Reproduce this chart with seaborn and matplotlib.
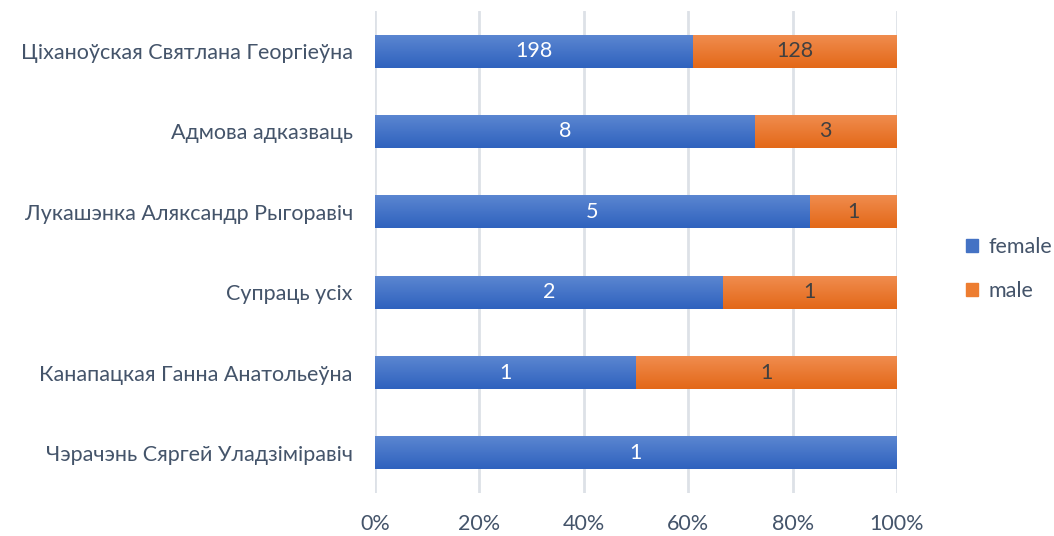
import numpy as np
import pandas as pd
import matplotlib
matplotlib.use("Agg")
import matplotlib.pyplot as plt
import matplotlib.patches as mpatches
from matplotlib.colors import LinearSegmentedColormap
import seaborn as sns

# Дадзеныя
кандыдаты = [
    "Ціханоўская Святлана Георгіеўна",
    "Адмова адказваць",
    "Лукашэнка Аляксандр Рыгоравіч",
    "Супраць усіх",
    "Канапацкая Ганна Анатольеўна",
    "Чэрачэнь Сяргей Уладзіміравіч",
]
female = [198, 8, 5, 2, 1, 1]
male = [128, 3, 1, 1, 1, 0]

COR_F = "#4472C4"
COR_M = "#ED7D31"
COR_TXT = "#44546A"
FS = 15.5

sns.set_theme(style="white")
plt.rcParams["font.family"] = ["Lato", "DejaVu Sans"]

df = pd.DataFrame({"cand": кандыдаты, "female": female, "male": male})
df["total"] = df["female"] + df["male"]
df["f_share"] = df["female"] / df["total"] * 100
df["all"] = 100.0

fig = plt.figure(figsize=(10.54, 5.36), dpi=100)
ax = fig.add_axes([0.3558, 0.0802, 0.851 - 0.3558, 0.9795 - 0.0802])

# ніжні слой (male) = 100%, зверху female
sns.barplot(data=df, x="all", y="cand", orient="h", color=COR_M,
            width=0.41, saturation=1, ax=ax, zorder=2)
sns.barplot(data=df, x="f_share", y="cand", orient="h", color=COR_F,
            width=0.41, saturation=1, ax=ax, zorder=3)

# градыент як у Excel (святлей зверху)
grad_f = LinearSegmentedColormap.from_list("gf", ["#5B86D1", "#2F62BE"])
grad_m = LinearSegmentedColormap.from_list("gm", ["#F08C4E", "#E36818"])
n = len(df)
for i, p in enumerate(ax.patches):
    cmap = grad_m if i < n else grad_f
    x0, y0 = p.get_x(), p.get_y()
    w, h = p.get_width(), p.get_height()
    if w <= 0:
        continue
    g = np.linspace(0, 1, 64).reshape(-1, 1)
    im = ax.imshow(g, cmap=cmap, aspect="auto", extent=[x0, x0 + w, y0 + h, y0],
                   origin="upper", zorder=p.get_zorder(), interpolation="bilinear")
    im.set_clip_path(p)
    p.set_alpha(0)

ax.set_xlim(0, 100)
ax.set_ylim(n - 0.5, -0.5)

# подпісы
for i, row in df.iterrows():
    ax.text(row["f_share"] / 2, i, str(row["female"]), ha="center", va="center",
            color="white", fontsize=FS, zorder=5)
    if row["male"] > 0:
        ax.text(row["f_share"] + (100 - row["f_share"]) / 2, i, str(row["male"]),
                ha="center", va="center", color="#404040", fontsize=FS, zorder=5)

ax.set_xticks(np.arange(0, 101, 20))
ax.set_xticklabels([f"{t}%" for t in range(0, 101, 20)])
ax.xaxis.grid(True, color="#DDE1E7", lw=2, zorder=0)
ax.set_axisbelow(True)
for s in ax.spines.values():
    s.set_visible(False)
ax.tick_params(axis="x", length=0, pad=15, labelsize=FS, labelcolor=COR_TXT)
ax.tick_params(axis="y", length=0, pad=16, labelsize=FS, labelcolor=COR_TXT)
ax.set_xlabel("")
ax.set_ylabel("")

legenda = [
    mpatches.Patch(color=COR_F, label="female"),
    mpatches.Patch(color=COR_M, label="male"),
]
fig.legend(handles=legenda, loc="center left", bbox_to_anchor=(0.898, 0.498),
           frameon=False, fontsize=FS, handlelength=0.55, handleheight=0.55,
           handletextpad=0.5, labelspacing=1.15, labelcolor=COR_TXT)

fig.savefig("out.png", dpi=100)
plt.close(fig)
